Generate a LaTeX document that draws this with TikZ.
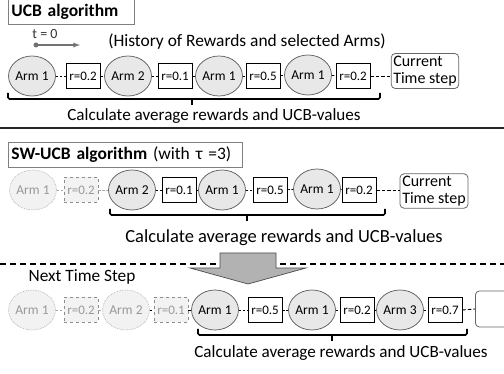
\documentclass[tikz,border=0pt]{standalone}
\usepackage{fontspec}
\setmainfont{Carlito}
\usetikzlibrary{shapes.geometric}
\tikzset{
  arm/.style={ellipse, draw=black!65, line width=0.7pt, fill=black!9, minimum width=46pt, minimum height=40pt, inner sep=0pt, font=\fontsize{13.5}{15}\selectfont},
  farm/.style={arm, draw=black!30, densely dotted, fill=black!5, text=black!40},
  rbox/.style={rectangle, draw=black, line width=0.8pt, fill=white, minimum width=34pt, minimum height=25pt, inner sep=0pt, font=\fontsize{13}{15}\selectfont},
  frbox/.style={rbox, draw=black!45, dashed, fill=black!5, text=black!40},
  link/.style={dash pattern=on 2.5pt off 1.5pt, line width=0.7pt, draw=black},
  flink/.style={link, draw=black!35},
  curlink/.style={dash pattern=on 3.5pt off 2pt, line width=0.9pt, draw=black},
  cur/.style={rectangle, draw=black!60, line width=0.8pt, rounded corners=4pt, align=left, font=\fontsize{16}{17.5}\selectfont, inner sep=2pt},
  brace/.style={line width=1.6pt, rounded corners=1.5pt, draw=black},
  title/.style={rectangle, draw=black!50, line width=0.8pt, fill=white, anchor=west, inner sep=0pt, font=\fontsize{17.5}{19}\selectfont},
  calc/.style={font=\fontsize{17.1}{20}\selectfont},
}
\begin{document}
\begin{tikzpicture}[x=1pt,y=-1pt]
\useasboundingbox (0,0) rectangle (504,374);

% ---------- UCB ----------
\node[title, minimum width=126pt, minimum height=25pt, text width=120pt, align=left] (t1) at (8,12) {\bfseries UCB algorithm};
\node[font=\fontsize{14}{16}\selectfont, text=black!80] (t0) at (45,34) {t = 0};
\coordinate (d0) at (36,45);
\coordinate (d1) at (80,45);
\fill[black!55] (d0) circle (2.5pt);
\draw[black!55, line width=1.3pt, -latex] (d0) -- (d1);
\node[font=\fontsize{17.4}{20}\selectfont] (hist) at (247,42) {(History of Rewards and selected Arms)};

\node[arm] (a11) at (32,76) {Arm 1};
\node[rbox] (r11) at (83,76) {r=0.2};
\node[arm] (a12) at (128,76) {Arm 2};
\node[rbox] (r12) at (175,76) {r=0.1};
\node[arm] (a13) at (219,76) {Arm 1};
\node[rbox] (r13) at (263,76) {r=0.5};
\node[arm] (a14) at (308,75) {Arm 1};
\node[rbox] (r14) at (353,76) {r=0.2};
\node[cur, minimum width=64pt, minimum height=35pt] (c1) at (425,71) {Current\\Time step};
\draw[link] (a11) -- (r11);
\draw[link] (r11) -- (a12);
\draw[link] (a12) -- (r12);
\draw[link] (r12) -- (a13);
\draw[link] (a13) -- (r13);
\draw[link] (r13) -- (a14);
\draw[link] (a14) -- (r14);
\draw[curlink] (r14.east) -- (r14.east -| c1.west);

\coordinate (b1l) at (8,93);
\coordinate (b1r) at (380,93);
\coordinate (b1m) at (192,99);
\draw[brace] (b1l) -- (8,99) -- (380,99) -- (b1r);
\draw[line width=1.6pt] (b1m) -- (192,105);
\node[calc] (k1) at (214,116) {Calculate average rewards and UCB-values};

\draw[black!85, line width=1.3pt] (0,128) -- (504,128);

% ---------- SW-UCB ----------
\node[title, minimum width=234pt, minimum height=25pt, text width=228pt, align=left] (t2) at (8,155) {\bfseries SW-UCB algorithm \mdseries(with τ =3)};

\node[farm] (a21) at (33,190) {Arm 1};
\node[frbox] (r21) at (81,190) {r=0.2};
\node[arm] (a22) at (132,190) {Arm 2};
\node[rbox] (r22) at (179,190) {r=0.1};
\node[arm] (a23) at (222,190) {Arm 1};
\node[rbox] (r23) at (270,190) {r=0.5};
\node[arm] (a24) at (317,189) {Arm 1};
\node[rbox] (r24) at (359,190) {r=0.2};
\node[cur, minimum width=68pt, minimum height=34pt] (c2) at (434,191) {Current\\Time step};
\draw[flink] (a21) -- (r21);
\draw[flink] (r21) -- (a22);
\draw[link] (a22) -- (r22);
\draw[link] (r22) -- (a23);
\draw[link] (a23) -- (r23);
\draw[link] (r23) -- (a24);
\draw[link] (a24) -- (r24);
\draw[curlink] (r24.east) -- (r24.east -| c2.west);

\coordinate (b2l) at (110,209);
\coordinate (b2r) at (385,209);
\coordinate (b2m) at (247,215);
\draw[brace] (b2l) -- (110,215) -- (385,215) -- (b2r);
\draw[line width=1.6pt] (b2m) -- (247,221);
\node[calc, font=\fontsize{18.5}{21}\selectfont] (k2) at (284,238) {Calculate average rewards and UCB-values};

% ---------- separator + arrow ----------
\draw[black, line width=1.2pt, dash pattern=on 6pt off 4pt] (0,264) -- (504,264);
\draw[black!70, fill=black!30, line width=0.7pt]
  (220,253) -- (276,253) -- (276,268) -- (306,268) -- (248,284) -- (190,268) -- (220,268) -- cycle;
\node[font=\fontsize{17.3}{20}\selectfont] (nts) at (82,277) {Next Time Step};

% ---------- next step ----------
\node[farm] (a31) at (32,310) {Arm 1};
\node[frbox] (r31) at (81,310) {r=0.2};
\node[farm] (a32) at (126,310) {Arm 2};
\node[frbox] (r32) at (171,310) {r=0.1};
\node[arm] (a33) at (215,310) {Arm 1};
\node[rbox] (r33) at (265,310) {r=0.5};
\node[arm] (a34) at (312,310) {Arm 1};
\node[rbox] (r34) at (357,310) {r=0.2};
\node[arm] (a35) at (400,310) {Arm 3};
\node[rbox] (r35) at (445,310) {r=0.7};
\node[cur, minimum width=60pt, minimum height=36pt, anchor=west] (c3) at (475,309) {};
\draw[flink] (a31) -- (r31);
\draw[flink] (r31) -- (a32);
\draw[link] (a32) -- (r32);
\draw[link] (r32) -- (a33);
\draw[link] (a33) -- (r33);
\draw[link] (r33) -- (a34);
\draw[link] (a34) -- (r34);
\draw[link] (r34) -- (a35);
\draw[link] (a35) -- (r35);
\draw[curlink] (r35.east) -- (c3.west);

\coordinate (b3l) at (198,329);
\coordinate (b3r) at (467,329);
\coordinate (b3m) at (332,335);
\draw[brace] (b3l) -- (198,335) -- (467,335) -- (b3r);
\draw[line width=1.6pt] (b3m) -- (332,341);
\node[calc] (k3) at (341,353) {Calculate average rewards and UCB-values};
\end{tikzpicture}
\end{document}
